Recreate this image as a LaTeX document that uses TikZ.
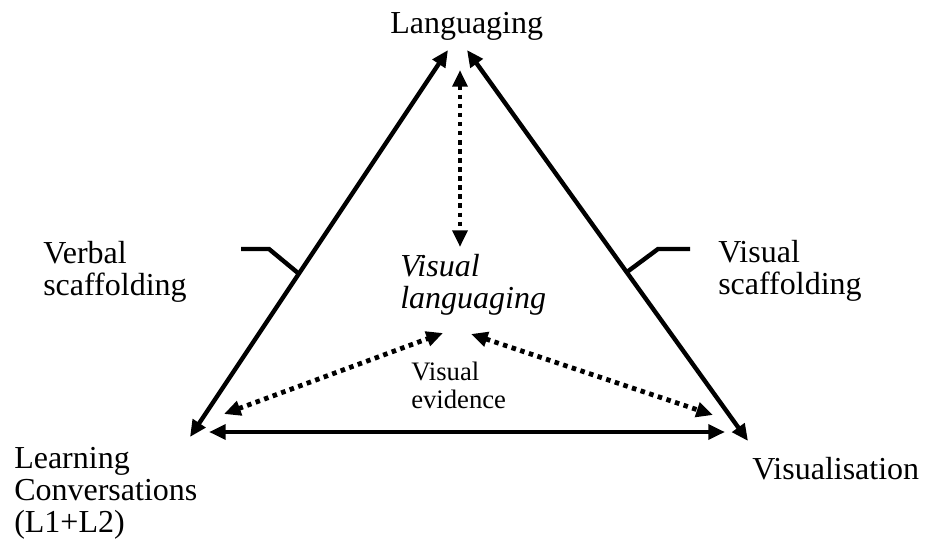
\documentclass[tikz,border=0pt]{standalone}
\usepackage{fontspec}
\setmainfont{Liberation Serif}
\usetikzlibrary{arrows.meta}
\begin{document}
\begin{tikzpicture}[x=0.75pt,y=-0.75pt,
    lbl/.style={inner sep=0pt,anchor=base west,align=left,
      font=\fontsize{24}{24}\selectfont},
    small/.style={lbl,font=\fontsize{20}{21}\selectfont},
    link/.style={line width=3.3pt,{Triangle[length=12.5pt,width=11pt]}-{Triangle[length=12.5pt,width=11pt]}},
    dotlink/.style={link,line width=3.6pt,dash pattern=on 3.4pt off 3.4pt},
    tick/.style={line width=3.3pt}]
  \useasboundingbox (0,0) rectangle (925,546);
  % labels (base = last line)
  \node[lbl] (lang) at (390,33) {Languaging};
  \node[lbl] (verbal) at (43,295) {Verbal\\scaffolding};
  \node[lbl] (visscaf) at (718,294) {Visual\\scaffolding};
  \node[lbl,font=\fontsize{24}{23.5}\itshape] (vislang) at (400,308) {Visual\\languaging};
  \node[small] (evid) at (411,408) {Visual\\evidence};
  \node[lbl] (learn) at (14,532) {Learning\\Conversations\\(L1+L2)};
  \node[lbl] (visual) at (752,479) {Visualisation};
  % arrow ends
  \coordinate (topL) at (448,50);
  \coordinate (topR) at (467,50);
  \coordinate (cornL) at (190,437);
  \coordinate (cornR) at (748,441);
  \coordinate (baseL) at (209,432);
  \coordinate (baseR) at (725,432);
  \coordinate (vtop) at (460,70);
  \coordinate (vbot) at (460,247);
  \coordinate (dotL) at (224,414);
  \coordinate (dotLc) at (443,333);
  \coordinate (dotRc) at (471,334);
  \coordinate (dotR) at (713,415);
  % triangle
  \draw[link] (cornL) -- (topL);
  \draw[link] (cornR) -- (topR);
  \draw[link] (baseL) -- (baseR);
  % dotted links
  \draw[dotlink] (vtop) -- (vbot);
  \draw[dotlink] (dotL) -- (dotLc);
  \draw[dotlink] (dotRc) -- (dotR);
  % scaffolding ticks
  \coordinate (joinL) at (298,273);
  \coordinate (joinR) at (627,272);
  \draw[tick] (joinL) -- (269,249) -- (241,249);
  \draw[tick] (joinR) -- (658,249) -- (690,249);
\end{tikzpicture}
\end{document}
